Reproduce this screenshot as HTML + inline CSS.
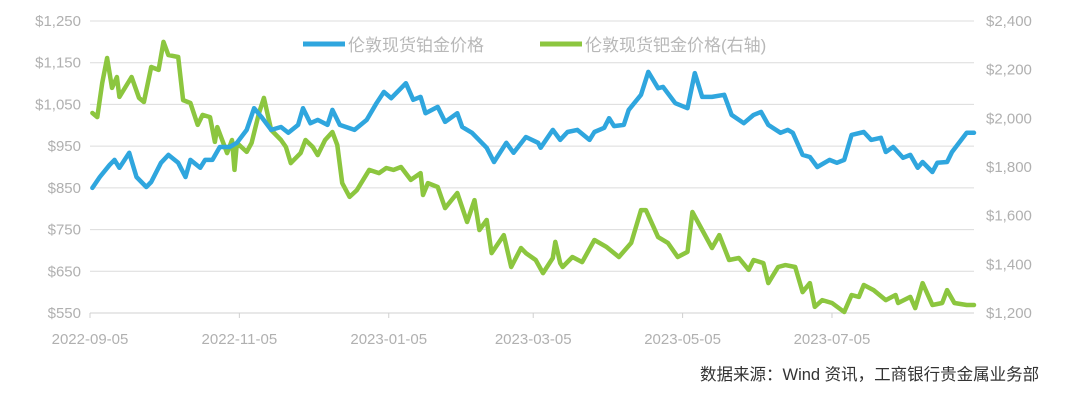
<!DOCTYPE html>
<html><head><meta charset="utf-8">
<style>
html,body{margin:0;padding:0;background:#fff;}
svg{display:block;font-family:"Liberation Sans","Noto Sans CJK SC",sans-serif;}
</style></head>
<body>
<svg id="chart" width="1080" height="406" viewBox="0 0 1080 406" xmlns="http://www.w3.org/2000/svg">
<g id="grid"></g>
<g id="yl"></g>
<g id="yr"></g>
<g id="xa"></g>
<g id="series"></g>
<g>
<line x1="303" y1="44" x2="345" y2="44" stroke="#2fa6de" stroke-width="5"/>
<text x="348" y="51" font-size="17" fill="#b8b8b8">伦敦现货铂金价格</text>
<line x1="540" y1="44" x2="582" y2="44" stroke="#8cc63f" stroke-width="5"/>
<text x="585" y="51" font-size="17" fill="#b8b8b8">伦敦现货钯金价格(右轴)</text>
</g>
<text x="700" y="380" font-size="16.5" fill="#333">数据来源：Wind 资讯，工商银行贵金属业务部</text>
</svg>
<script>
const leftTicks=[550,650,750,850,950,1050,1150,1250];
const leftTickLabels=["$550","$650","$750","$850","$950","$1,050","$1,150","$1,250"];
const rightTicks=[1200,1400,1600,1800,2000,2200,2400];
const rightTickLabels=["$1,200","$1,400","$1,600","$1,800","$2,000","$2,200","$2,400"];
const xTickDays=[0,61,122,181,242,303];
const xTickLabels=["2022-09-05","2022-11-05","2023-01-05","2023-03-05","2023-05-05","2023-07-05"];
const ptDays=[1,4,8,10,12,16,19,23,25,29,32,36,39,41,45,47,50,53,57,60,64,67,70,74,78,81,85,87,90,93,97,99,102,108,113,117,120,123,129,132,135,137,142,145,150,152,156,162,165,170,173,178,183,184,189,192,195,199,204,206,210,212,214,218,220,225,228,232,234,239,244,247,250,254,259,262,267,271,274,277,282,285,287,291,294,297,302,305,308,311,316,319,323,325,328,332,335,338,340,344,346,350,352,358,361];
const ptValues=[850,876,905,917,898,934,876,852,864,910,929,910,876,917,898,917,917,948,948,958,989,1041,1020,989,996,982,1001,1041,1005,1013,1001,1037,1001,989,1013,1053,1080,1065,1101,1061,1068,1029,1044,1008,1029,996,982,946,912,958,934,972,958,946,989,965,984,989,965,984,994,1017,998,1001,1037,1073,1128,1089,1092,1053,1041,1125,1068,1068,1073,1025,1005,1025,1032,1001,982,989,982,929,924,900,917,910,917,977,984,965,970,936,948,922,929,898,912,888,910,912,936,982,982];
const pdDays=[1,3,5,7,9,11,12,17,20,22,25,28,30,32,36,38,41,44,46,49,51,52,56,58,59,60,64,66,69,71,74,78,80,82,86,88,91,93,96,99,101,103,106,109,114,118,121,124,127,131,135,136,138,142,145,150,154,157,159,162,164,169,172,176,178,182,185,189,190,192,193,197,201,206,211,216,221,225,227,232,236,240,244,246,250,254,257,261,265,269,271,275,277,281,284,288,291,294,296,299,303,308,311,314,316,320,325,329,330,335,337,340,344,348,350,353,358,361];
const pdValues=[2022,2005,2145,2248,2125,2170,2088,2170,2084,2067,2211,2199,2314,2260,2252,2075,2063,1973,2014,2005,1903,1964,1857,1911,1788,1899,1862,1899,2022,2084,1952,1911,1882,1816,1857,1911,1882,1849,1911,1944,1890,1734,1677,1705,1788,1775,1796,1788,1800,1747,1775,1685,1734,1718,1631,1693,1574,1664,1541,1582,1446,1520,1389,1467,1446,1418,1364,1426,1492,1405,1389,1430,1409,1500,1471,1430,1488,1623,1623,1512,1488,1430,1451,1615,1541,1467,1520,1418,1426,1377,1418,1405,1323,1389,1397,1389,1286,1323,1225,1253,1241,1204,1274,1266,1315,1294,1253,1274,1241,1266,1220,1323,1233,1241,1294,1241,1233,1233];

const NS="http://www.w3.org/2000/svg";
const X0=90,X1=974,DMAX=361,Y0=313,Y1=21;
const xs=d=>X0+(d/DMAX)*(X1-X0);
const yL=v=>Y0-(v-550)/(1250-550)*(Y0-Y1);
const yR=v=>Y0-(v-1200)/(2400-1200)*(Y0-Y1);
function mk(tag,attrs,parent){const e=document.createElementNS(NS,tag);for(const k in attrs)e.setAttribute(k,attrs[k]);parent.appendChild(e);return e;}
const grid=document.getElementById('grid'),yl=document.getElementById('yl'),yr=document.getElementById('yr'),xa=document.getElementById('xa'),ser=document.getElementById('series');
leftTicks.forEach((v,i)=>{
  const y=yL(v);
  if(i>0){const g=mk('line',{x1:X0,x2:X1,y1:y,y2:y,stroke:'#dcdcdc','stroke-width':1},grid);
  
  }
  const t=mk('text',{x:81,y:y+5,'text-anchor':'end','font-size':15,fill:'#b0b0b0'},yl);
  t.textContent=leftTickLabels[i];
  
  
});
rightTicks.forEach((v,i)=>{
  const t=mk('text',{x:986,y:yR(v)+5,'text-anchor':'start','font-size':15,fill:'#b0b0b0'},yr);
  t.textContent=rightTickLabels[i];
  
  
});
const ax=mk('line',{x1:X0,x2:X1,y1:Y0,y2:Y0,stroke:'#d0d0d0','stroke-width':1},xa);


xTickDays.forEach((d,i)=>{
  const x=xs(d);
  const tk=mk('line',{x1:x,x2:x,y1:Y0,y2:Y0+5,stroke:'#d0d0d0','stroke-width':1},xa);
  
  
  const t=mk('text',{x:x,y:344,'text-anchor':'middle','font-size':15,fill:'#b0b0b0'},xa);
  t.textContent=xTickLabels[i];
  
  
});
function line(days,vals,yf,color,name){
  const d=days.map((dd,i)=>(i?'L':'M')+xs(dd).toFixed(1)+','+yf(vals[i]).toFixed(1)).join(' ');
  const p=mk('path',{d:d,fill:'none',stroke:color,'stroke-width':4.5,'stroke-linejoin':'round','stroke-linecap':'round'},ser);
  
  
}
line(pdDays,pdValues,yR,'#8cc63f','palladium-line');
line(ptDays,ptValues,yL,'#2fa6de','platinum-line');
</script>
</body></html>
